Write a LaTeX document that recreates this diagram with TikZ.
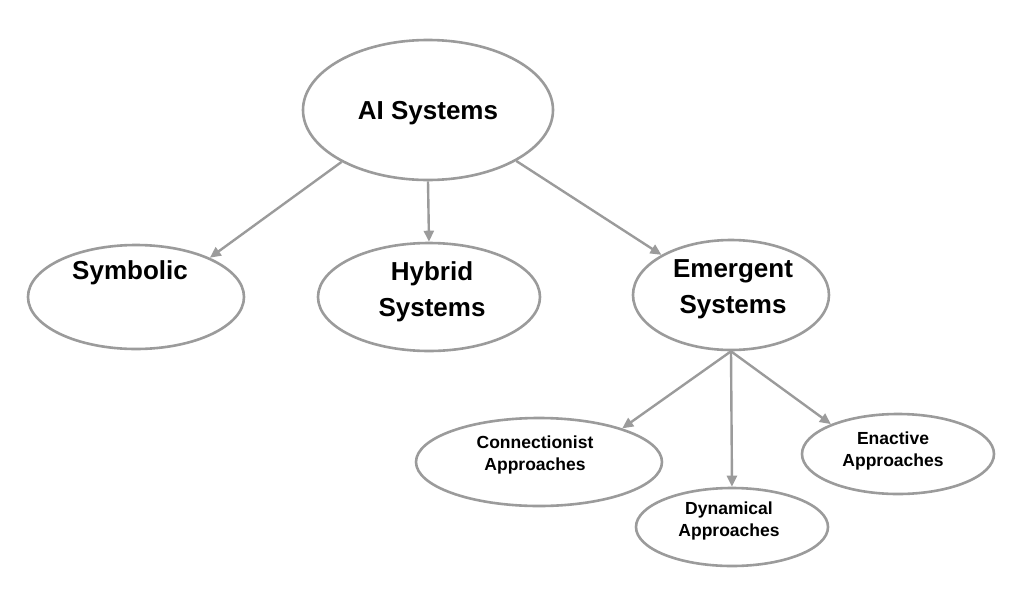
\documentclass[tikz,border=0pt]{standalone}
\usepackage{fontspec}
\setmainfont{Liberation Sans}
\usetikzlibrary{shapes.geometric,arrows.meta}
\definecolor{edgegray}{RGB}{155,155,155}
\tikzset{
  oval/.style={ellipse, draw=edgegray, line width=2.6pt, inner sep=0pt, fill=white},
  big/.style={font=\bfseries\fontsize{26}{36}\selectfont, align=center, inner sep=0pt},
  small/.style={font=\bfseries\fontsize{17.5}{22}\selectfont, align=center, inner sep=0pt},
  conn/.style={draw=edgegray, line width=2.4pt, -{Triangle[length=11pt,width=10pt]}}
}
\begin{document}
\begin{tikzpicture}[x=1pt,y=-1pt]
\useasboundingbox (0,0) rectangle (1018,600);
% ellipses
\node[oval, minimum width=250pt, minimum height=140pt] (ai) at (428,110) {};
\node[oval, minimum width=216pt, minimum height=104pt] (sym) at (136,297) {};
\node[oval, minimum width=222pt, minimum height=108pt] (hyb) at (429,297) {};
\node[oval, minimum width=196pt, minimum height=110pt] (em) at (731,295) {};
\node[oval, minimum width=246pt, minimum height=88pt] (con) at (539,462) {};
\node[oval, minimum width=192pt, minimum height=78pt] (dyn) at (732,527) {};
\node[oval, minimum width=192pt, minimum height=80pt] (ena) at (898,454) {};
% texts
\node[big] (tai) at (428,113) {AI Systems};
\node[big] (tsym) at (130,273) {Symbolic};
\node[big] (thyb) at (432,292) {Hybrid\\Systems};
\node[big] (tem) at (733,289) {Emergent\\Systems};
\node[small] (tcon) at (535,455) {Connectionist\\Approaches};
\node[small] (tdyn) at (729,521) {Dynamical\\Approaches};
\node[small] (tena) at (893,451) {Enactive\\Approaches};
% connectors
\draw[conn] (ai.211) -- (sym.28);
\draw[conn] (ai.south) -- (hyb.north);
\draw[conn] (ai.-30) -- (em.150);
\draw[conn] (em.south) -- (con.22);
\draw[conn] (em.south) -- (dyn.north);
\draw[conn] (em.south) -- (ena.156);
\end{tikzpicture}
\end{document}
